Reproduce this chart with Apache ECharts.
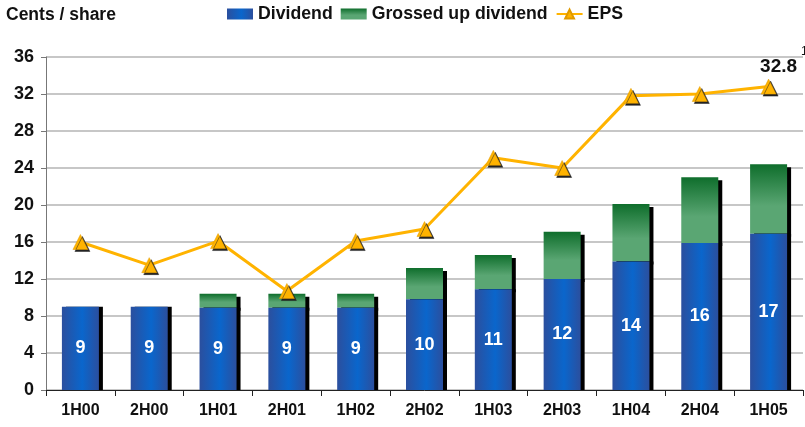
<!DOCTYPE html>
<html>
<head>
<meta charset="utf-8">
<script src="https://cdn.jsdelivr.net/npm/echarts@6/dist/echarts.min.js"></script>
<style>
  html, body { margin: 0; padding: 0; background: #fff; }
  #chart { width: 805px; height: 427px; }
</style>
</head>
<body>
<div id="chart"></div>
<script>
  // values
  const periods = ['1H00', '2H00', '1H01', '2H01', '1H02', '2H02', '1H03', '2H03', '1H04', '2H04', '1H05'];
  const dividend = [9, 9, 8.9, 8.9, 8.9, 9.8, 10.9, 12, 13.9, 15.9, 16.9];
  const grossedUp = [0, 0, 1.5, 1.5, 1.5, 3.4, 3.7, 5.1, 6.2, 7.1, 7.5];
  const eps = [16, 13.5, 16.1, 10.7, 16.1, 17.4, 25.1, 24, 31.8, 32, 32.8];
  const yTicks = { min: 0, max: 36, interval: 4 };

  const font = 'Liberation Sans, Arial, sans-serif';

  const chart = echarts.init(document.getElementById('chart'));

  const blueFill = new echarts.graphic.LinearGradient(0, 0, 1, 0, [
    { offset: 0, color: '#2b4f9e' },
    { offset: 0.55, color: '#0a66cc' },
    { offset: 1, color: '#2b4f9e' }
  ]);
  const greenFill = new echarts.graphic.LinearGradient(0, 0, 0, 1, [
    { offset: 0, color: '#0f6e2c' },
    { offset: 0.6, color: '#5aa673' },
    { offset: 1, color: '#5aa673' }
  ]);

  const option = {
    backgroundColor: '#fff',
    animation: false,
    textStyle: { fontFamily: font },
    title: {
      text: 'Cents / share',
      left: 6,
      top: 6,
      padding: [0, 0, 0, 0],
      textStyle: { fontSize: 17.5, fontWeight: 'bold', color: '#111', fontFamily: font }
    },
    legend: {
      top: 5,
      left: 227,
      padding: 0,
      itemGap: 8,
      itemWidth: 26,
      itemHeight: 11,
      textStyle: { fontSize: 17.7, fontWeight: 'bold', color: '#111', fontFamily: font },
      data: [
        { name: 'Dividend', icon: 'rect' },
        { name: 'Grossed up dividend', icon: 'rect' },
        { name: 'EPS' }
      ]
    },
    graphic: [{
      type: 'text',
      left: 801,
      top: 46,
      style: { text: '1', fontSize: 12, fill: '#111', fontFamily: font }
    }],
    grid: { left: 46, right: 2, top: 57, bottom: 37 },
    xAxis: {
      type: 'category',
      data: periods,
      axisLine: { lineStyle: { color: '#222', width: 1 } },
      axisTick: { show: true, alignWithLabel: false, length: 6, lineStyle: { color: '#222' } },
      axisLabel: { fontSize: 16, fontWeight: 'bold', color: '#111', margin: 13, fontFamily: font }
    },
    yAxis: {
      type: 'value',
      min: yTicks.min,
      max: yTicks.max,
      interval: yTicks.interval,
      axisLine: { show: true, lineStyle: { color: '#777' } },
      axisTick: { show: true, length: 5, lineStyle: { color: '#777' } },
      axisLabel: { fontSize: 18, fontWeight: 'bold', color: '#111', margin: 12, fontFamily: font },
      splitLine: { lineStyle: { color: '#b4b4b4', width: 1.5 } }
    },
    series: [
      {
        name: 'Dividend',
        type: 'bar',
        stack: 'div',
        barWidth: 37,
        z: 3,
        data: dividend,
        itemStyle: {
          color: blueFill,
          shadowColor: '#000',
          shadowOffsetX: 4,
          shadowOffsetY: 0,
          shadowBlur: 0
        },
        label: {
          show: true,
          position: 'inside',
          color: '#fff',
          fontSize: 18,
          fontWeight: 'bold',
          fontFamily: font,
          formatter: p => Math.round(p.value)
        }
      },
      {
        name: 'Grossed up dividend',
        type: 'bar',
        stack: 'div',
        barWidth: 37,
        z: 2,
        data: grossedUp,
        itemStyle: {
          color: greenFill,
          shadowColor: '#000',
          shadowOffsetX: 4,
          shadowOffsetY: 3,
          shadowBlur: 0
        }
      },
      {
        name: 'EPS',
        type: 'line',
        data: eps.map((v, i) => i === eps.length - 1
          ? { value: v, label: { show: true } }
          : v),
        symbol: 'triangle',
        symbolSize: 15,
        lineStyle: { color: '#ffb300', width: 3 },
        itemStyle: {
          color: '#ffb300',
          borderColor: '#e09a00',
          borderWidth: 0.5,
          shadowColor: '#222',
          shadowOffsetX: 2,
          shadowOffsetY: 2,
          shadowBlur: 0
        },
        label: {
          show: false,
          position: 'top',
          distance: 3,
          offset: [10, 0],
          fontSize: 19,
          fontWeight: 'bold',
          color: '#111',
          fontFamily: font
        },
        z: 5
      }
    ]
  };

  chart.setOption(option);
</script>
</body>
</html>
